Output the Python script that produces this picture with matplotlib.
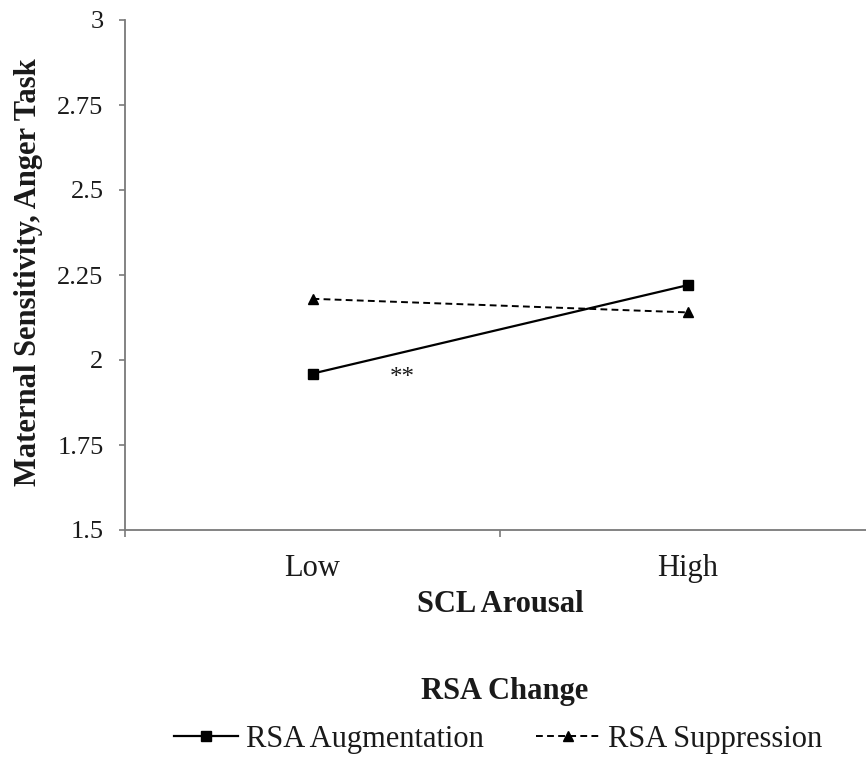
import matplotlib
matplotlib.use("Agg")
import matplotlib.pyplot as plt

categories = ["Low", "High"]
aug_values = [1.96, 2.22]
supp_values = [2.18, 2.14]
series_names = ["RSA Augmentation", "RSA Suppression"]
yticks = [1.5, 1.75, 2.0, 2.25, 2.5, 2.75, 3.0]
ytick_labels = ["1.5", "1.75", "2", "2.25", "2.5", "2.75", "3"]

plt.rcParams['font.family'] = ['Liberation Serif', 'DejaVu Serif']
txt = '#1a1a1a'
spine_c = '#7a7a7a'

W, H = 866, 758
fig = plt.figure(figsize=(W/100, H/100), dpi=100)
ax = fig.add_axes([125/W, (H-530)/H, 750/W, 510/H])

x = list(range(len(categories)))
ax.plot(x, aug_values, color='black', lw=1.6, marker='s', markersize=6.5,
        label=series_names[0])
ax.plot(x, supp_values, color='black', lw=1.4, ls=(0, (3.5, 2.2)), marker='^',
        markersize=7.5, label=series_names[1])

ax.text(0.24, 1.947, "**", ha='center', va='center', fontsize=18, color=txt)

ax.set_xlim(-0.5, 1.5)
ax.set_ylim(1.5, 3.0)
ax.set_yticks(yticks)
ax.set_yticklabels(ytick_labels)
ax.set_xticks(x)
ax.set_xticklabels(categories)
ax.set_xticks([-0.5, 0.5, 1.5], minor=True)
ax.tick_params(axis='x', which='major', length=0, pad=17, labelsize=22, labelcolor=txt)
ax.tick_params(axis='x', which='minor', length=5, color=spine_c, width=1.2, direction='out')
ax.tick_params(axis='y', length=4.5, color=spine_c, width=1.2, direction='out', pad=11,
               labelsize=19, labelcolor=txt)

for s in ['top', 'right']:
    ax.spines[s].set_visible(False)
for s in ['left', 'bottom']:
    ax.spines[s].set_color(spine_c)
    ax.spines[s].set_linewidth(1.3)

fig.text(500/W, 1 - 604/H, "SCL Arousal", ha='center', va='center', fontsize=22,
         fontweight='bold', color=txt)
fig.text(29/W, 1 - 272/H, "Maternal Sensitivity, Anger Task", ha='center', va='center',
         rotation=90, fontsize=22, fontweight='bold', color=txt)

fig.text(505/W, 1 - 692/H, "RSA Change", ha='center', va='center', fontsize=22,
         fontweight='bold', color=txt)
leg = fig.legend(loc='center', bbox_to_anchor=(498/W, 1 - 739/H), ncol=2, frameon=False,
                 fontsize=22, handlelength=2.1, handletextpad=0.25, columnspacing=1.7,
                 labelcolor=txt)

fig.savefig("out.png", dpi=100, facecolor='white')
